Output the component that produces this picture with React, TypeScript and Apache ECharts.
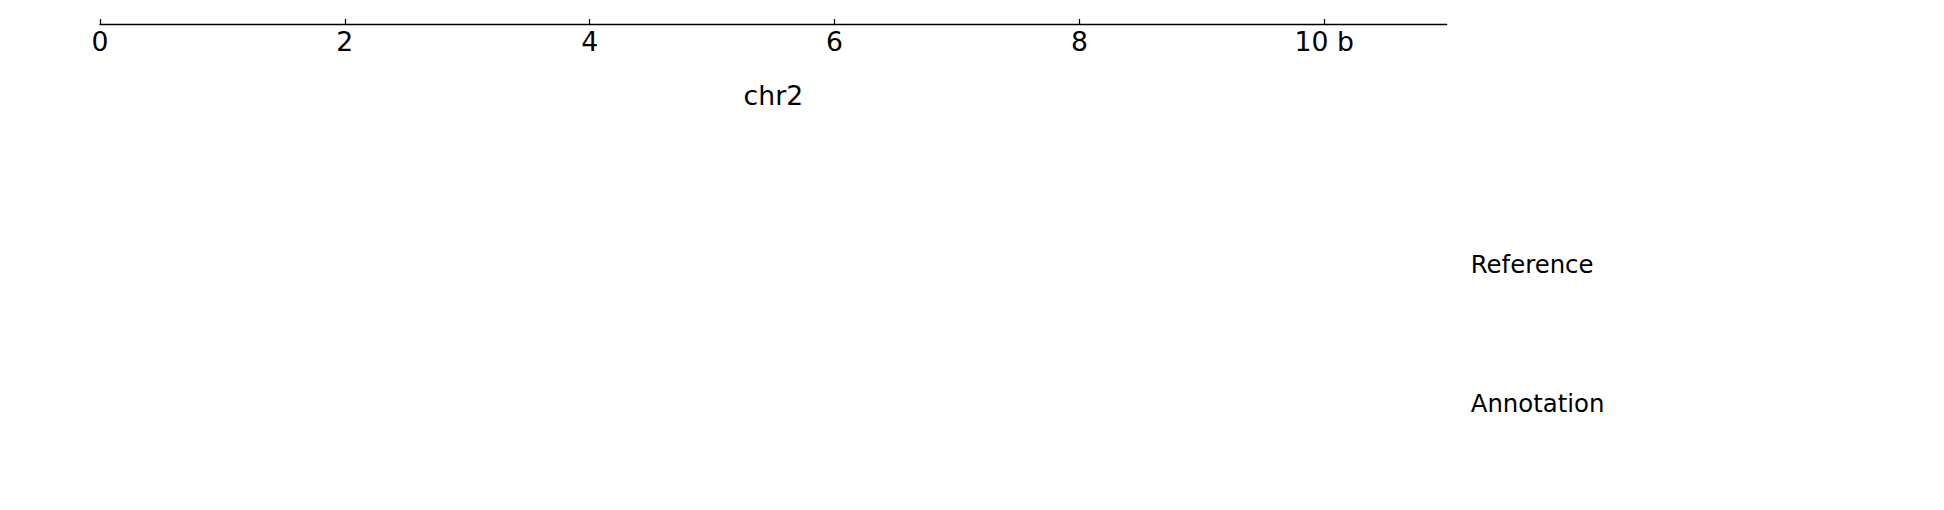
import React, { useEffect, useRef } from "react";
import * as echarts from "echarts";

const axisName = "chr2";
const axisMin = 0;
const axisMax = 11;
const tickValues = [0, 2, 4, 6, 8, 10];
const tickLabels = ["0", "2", "4", "6", "8", "10 b"];
const trackLabels = ["Reference", "Annotation"];

const FONT = "DejaVu Sans";

export default function App() {
  const ref = useRef<HTMLDivElement>(null);
  useEffect(() => {
    if (!ref.current) return;
    const chart = echarts.init(ref.current, null, { renderer: "svg" });
    const labelFor = (v: number) => {
      const i = tickValues.indexOf(v);
      return i >= 0 ? tickLabels[i] : "";
    };
    chart.setOption({
      animation: false,
      backgroundColor: "#ffffff",
      grid: [
        { left: 100, width: 1346.7, top: 14, height: 10, containLabel: false },
        { left: 100, width: 1346.7, top: 194.3, height: 278.8, containLabel: false },
      ],
      xAxis: [
        {
          gridIndex: 0,
          type: "value",
          position: "bottom",
          min: axisMin,
          max: axisMax,
          name: axisName,
          nameLocation: "middle",
          nameGap: 58,
          nameTextStyle: { fontFamily: FONT, fontSize: 26.67, color: "#000" },
          axisLine: { show: true, lineStyle: { color: "#000", width: 1.3 } },
          axisTick: {
            show: true,
            inside: true,
            length: 5,
            customValues: tickValues,
            lineStyle: { color: "#000", width: 1.2 },
          },
          axisLabel: {
            show: true,
            customValues: tickValues,
            margin: 4,
            fontFamily: FONT,
            fontSize: 26.67,
            color: "#000",
            formatter: (v: number) => labelFor(v),
          },
          splitLine: { show: false },
        },
        {
          gridIndex: 1,
          type: "value",
          min: axisMin,
          max: axisMax,
          show: false,
        },
      ],
      yAxis: [
        { gridIndex: 0, type: "value", show: false, min: 0, max: 1 },
        {
          gridIndex: 1,
          type: "category",
          position: "right",
          inverse: true,
          data: trackLabels,
          axisLine: { show: false },
          axisTick: { show: false },
          splitLine: { show: false },
          axisLabel: {
            margin: 24,
            fontFamily: FONT,
            fontSize: 24.4,
            color: "#000",
          },
        },
      ],
      series: [
        { type: "scatter", xAxisIndex: 0, yAxisIndex: 0, data: [] },
        { type: "scatter", xAxisIndex: 1, yAxisIndex: 1, data: [] },
      ],
    });
    return () => chart.dispose();
  }, []);
  return (
    <div
      ref={ref}
      style={{ position: "fixed", left: 0, top: 0, width: 1944, height: 510 }}
    />
  );
}
